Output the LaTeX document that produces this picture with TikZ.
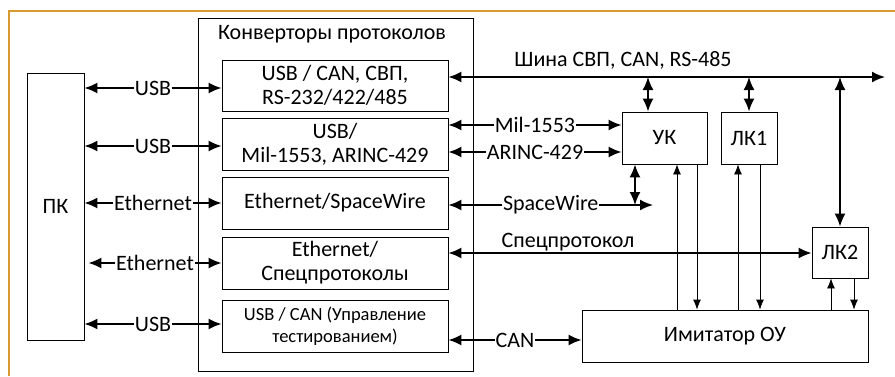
\documentclass[tikz,border=0pt]{standalone}
\usepackage{fontspec}
\setmainfont{Carlito}
\usetikzlibrary{arrows.meta}
\definecolor{frameor}{RGB}{214,154,48}
\tikzset{
  box/.style={draw, line width=0.8pt, inner sep=0pt, align=center, font=\fontsize{22}{24}\selectfont},
  lbl/.style={fill=white, inner sep=0.8pt, font=\fontsize{22}{24}\selectfont},
  txt/.style={inner sep=0pt, font=\fontsize{22}{24}\selectfont},
  dbl/.style={{Latex[length=13pt,width=11pt]}-{Latex[length=13pt,width=11pt]}, line width=1.7pt},
  thinarr/.style={-{Latex[length=10pt,width=8pt]}, line width=0.8pt},
}
\begin{document}
\begin{tikzpicture}[x=1pt,y=-1pt]
\useasboundingbox (0,0) rectangle (895,376);
% orange frame
\draw[frameor, line width=2.5pt] (9,376) -- (9,11) -- (895,11);
% container
\node[box, minimum width=275pt, minimum height=353pt] (conv) at (335.5,194.5) {};
\node[txt] (convt) at (332,34) {Конверторы протоколов};
% PK
\node[box, minimum width=57pt, minimum height=267pt] (pk) at (55.5,206.5) {ПК};
% converter boxes
\node[box, minimum width=226pt, minimum height=51pt] (b1) at (335,85.5) {USB / CAN, СВП,\\RS-232/422/485};
\node[box, minimum width=226pt, minimum height=52pt] (b2) at (335,144) {USB/\\Mil-1553, ARINC-429};
\node[box, minimum width=226pt, minimum height=52pt] (b3) at (335,203) {Ethernet/SpaceWire};
\node[box, minimum width=226pt, minimum height=52pt] (b4) at (335,263) {Ethernet/\\Спецпротоколы};
\node[box, minimum width=226pt, minimum height=52pt, font=\fontsize{18.5}{22}\selectfont] (b5) at (335,326) {USB / CAN (Управление\\тестированием)};
% right blocks
\node[box, minimum width=85pt, minimum height=52pt] (uk) at (664.5,138) {УК};
\node[box, minimum width=56pt, minimum height=52pt] (lk1) at (749,138) {ЛК1};
\node[box, minimum width=56pt, minimum height=51pt] (lk2) at (840,252.5) {ЛК2};
\node[box, minimum width=286pt, minimum height=52pt] (im) at (725,336) {Имитатор ОУ};
% row / column coordinates
\coordinate (rU1) at (0,88);
\coordinate (rU2) at (0,146);
\coordinate (rE1) at (0,203);
\coordinate (rE2) at (0,263);
\coordinate (rU3) at (0,324);
\coordinate (rmil) at (0,125);
\coordinate (rar) at (0,152);
\coordinate (rsp) at (0,253);
\coordinate (rcan) at (0,340);
\coordinate (busR) at (885,77);
\coordinate (swR) at (653,205);
\coordinate (cbu) at (648,0);
\coordinate (cbl) at (749,0);
\coordinate (cbk) at (840,0);
\coordinate (csw) at (635,0);
\coordinate (c1) at (677,0);
\coordinate (c2) at (697,0);
\coordinate (c3) at (738,0);
\coordinate (c4) at (760,0);
\coordinate (c5) at (831,0);
\coordinate (c6) at (854,0);
% PK links
\draw[dbl] (pk.east |- rU1) -- node[lbl] {USB} (b1.west |- rU1);
\draw[dbl] (pk.east |- rU2) -- node[lbl] {USB} (b2.west |- rU2);
\draw[dbl] (pk.east |- rE1) -- node[lbl] {Ethernet} (b3.west |- rE1);
\draw[dbl] ([xshift=4pt]pk.east |- rE2) -- node[lbl] {Ethernet} (b4.west |- rE2);
\draw[dbl] (pk.east |- rU3) -- node[lbl] {USB} (b5.west |- rU3);
% bus
\draw[dbl] (b1.east |- busR) -- (busR);
\node[txt] (busl) at (623,60) {Шина СВП, CAN, RS-485};
\draw[dbl] (busR -| cbu) -- (uk.north -| cbu);
\draw[dbl] (busR -| cbl) -- (lk1.north -| cbl);
\draw[dbl] (busR -| cbk) -- (lk2.north -| cbk);
% Mil / ARINC
\draw[dbl] (b2.east |- rmil) -- node[lbl] {Mil-1553} (uk.west |- rmil);
\draw[dbl] (b2.east |- rar) -- node[lbl] {ARINC-429} (uk.west |- rar);
% SpaceWire
\draw[dbl] (b3.east |- swR) -- node[lbl] {SpaceWire} (swR);
\draw[dbl] (uk.south -| csw) -- (swR -| csw);
% Spec protocol
\draw[dbl] (b4.east |- rsp) -- (lk2.west |- rsp);
\node[txt] (spl) at (568,242) {Спецпротокол};
% CAN
\draw[dbl] (b5.east |- rcan) -- node[lbl] {CAN} (im.west |- rcan);
% thin links with imitator
\draw[thinarr] (im.north -| c1) -- (uk.south -| c1);
\draw[thinarr] (uk.south -| c2) -- (im.north -| c2);
\draw[thinarr] (im.north -| c3) -- (lk1.south -| c3);
\draw[thinarr] (lk1.south -| c4) -- (im.north -| c4);
\draw[thinarr] (im.north -| c5) -- (lk2.south -| c5);
\draw[thinarr] (lk2.south -| c6) -- (im.north -| c6);
\end{tikzpicture}
\end{document}
